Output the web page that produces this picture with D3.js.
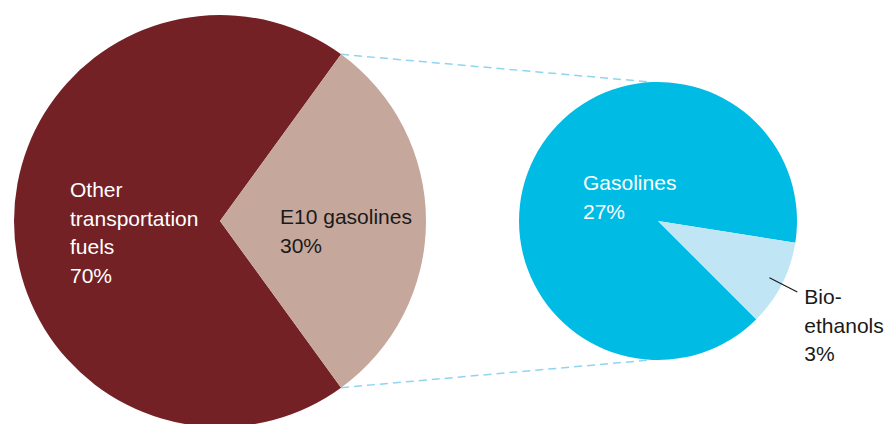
<!DOCTYPE html>
<html>
<head>
<meta charset="utf-8">
<script src="https://cdn.jsdelivr.net/npm/d3@7"></script>
<style>
  html, body { margin: 0; padding: 0; background: #ffffff; }
  svg { display: block; }
  text { font-family: "Liberation Sans", Arial, sans-serif; font-size: 21px; }
</style>
</head>
<body>
<svg id="chart" width="886" height="424"></svg>
<script>
// ---- data ----
const mainCategories = ["Other transportation fuels", "E10 gasolines"];
const mainValues = [70, 30];
const detailCategories = ["Gasolines", "Bio-ethanols"];
const detailValues = [27, 3];

// ---- styles ----
const mainColors = ["#742126", "#c6a79c"];
const detailColors = ["#00bce4", "#c0e6f5"];
const deg = Math.PI / 180;

const svg = d3.select("#chart");

const L = { cx: 220, cy: 221, r: 206 };
const R = { cx: 658, cy: 221, r: 139 };

const mainPie = d3.pie().sort(null).value(d => d)
  .startAngle(144 * deg).endAngle(144 * deg + 2 * Math.PI);
const detailPie = d3.pie().sort(null).value(d => d)
  .startAngle(135 * deg).endAngle(135 * deg + 2 * Math.PI);

const mainArcs = mainPie(mainValues);
const detailArcs = detailPie(detailValues);

const pt = (c, a, rr) => [c.cx + rr * Math.sin(a), c.cy - rr * Math.cos(a)];

// connector dashed lines (from E10 slice edges to the top/bottom of the detail pie)
const e10 = mainArcs[1];
const conn = [
  [pt(L, e10.startAngle, L.r), [R.cx - 8, R.cy - R.r]],
  [pt(L, e10.endAngle, L.r), [R.cx - 8, R.cy + R.r]]
];
svg.append("g").selectAll("line").data(conn).join("line")
  .attr("x1", d => d[0][0]).attr("y1", d => d[0][1])
  .attr("x2", d => d[1][0]).attr("y2", d => d[1][1])
  .attr("stroke", "#8fd5f0").attr("stroke-width", 1.5)
  .attr("stroke-dasharray", "8,5");

// main pie
const arcL = d3.arc().innerRadius(0).outerRadius(L.r);
svg.append("g").attr("transform", `translate(${L.cx},${L.cy})`)
  .selectAll("path").data(mainArcs).join("path")
  .attr("d", arcL).attr("fill", (d, i) => mainColors[i]);

// detail pie
const arcR = d3.arc().innerRadius(0).outerRadius(R.r);
svg.append("g").attr("transform", `translate(${R.cx},${R.cy})`)
  .selectAll("path").data(detailArcs).join("path")
  .attr("d", arcR).attr("fill", (d, i) => detailColors[i]);

// labels
function label(lines, x, y, color) {
  const t = svg.append("text").attr("x", x).attr("y", y).attr("fill", color);
  lines.forEach((s, i) => t.append("tspan").attr("x", x).attr("dy", i === 0 ? 0 : 28.6).text(s));
}
label(["Other", "transportation", "fuels", mainValues[0] + "%"], L.cx - 150, L.cy - 24, "#ffffff");
label(["E10 gasolines", mainValues[1] + "%"], L.cx + 60, L.cy + 3, "#1a1a1a");
label([detailCategories[0], detailValues[0] + "%"], R.cx - 75, R.cy - 31, "#ffffff");

// bio-ethanol leader line & label
const bio = detailArcs[1];
const mid = (bio.startAngle + bio.endAngle) / 2;
const p1 = pt(R, mid, R.r * 0.9), p2 = pt(R, mid, R.r * 1.125);
svg.append("line").attr("x1", p1[0]).attr("y1", p1[1]).attr("x2", p2[0]).attr("y2", p2[1])
  .attr("stroke", "#1a1a1a").attr("stroke-width", 1.2);
label(["Bio-", "ethanols", detailValues[1] + "%"], p2[0] + 7, p2[1] + 12, "#1a1a1a");
</script>
</body>
</html>
